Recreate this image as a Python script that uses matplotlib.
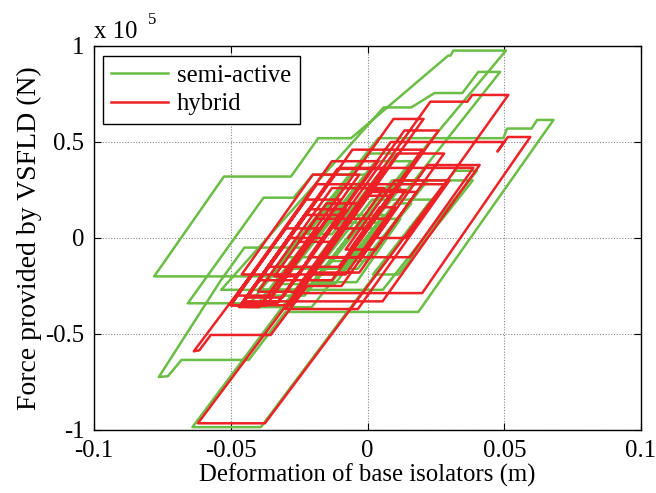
import matplotlib
matplotlib.use("Agg")
import matplotlib.pyplot as plt
from matplotlib.lines import Line2D

plt.rcParams['font.family'] = ['Liberation Serif', 'DejaVu Serif']

# Hysteresis path of the semi-active VSFLD: deformation (m) and force (x 1e5 N)
semi_x = [0.000, 0.010, 0.016, -0.001, -0.014, 0.009, 0.0385, 0.0113, 0.002,
          0.032, 0.040, 0.0056, -0.040, 0.004, 0.0497, 0.051, 0.060, 0.062,
          0.068, 0.0186, -0.030, -0.0434, -0.068, -0.073, -0.0763, -0.0536,
          -0.045, -0.024, -0.040, -0.0657, -0.038, -0.027, -0.020, 0.000,
          -0.0294, -0.078, -0.0525, -0.028, -0.018, -0.006, 0.0295, 0.0303,
          0.0314, 0.0506, -0.0225, -0.0535, 0.0059, 0.016, 0.0245, 0.0347,
          0.0405, 0.0485, -0.010, -0.020, 0.0017, 0.0234, -0.039, -0.064,
          -0.0122, -0.006, 0.006, -0.006, -0.018, -0.010, 0.004, -0.012,
          -0.032, -0.014, 0.012, -0.004, -0.020, -0.004, 0.000,
          0.0133, 0.022, -0.0036, -0.028, 0.003, 0.016, -0.023, -0.036,
          -0.015, 0.004, -0.0204, -0.044, 0.000, 0.010, -0.013, -0.022,
          -0.009, 0.012, -0.008, -0.030, -0.0167, -0.004, -0.0146]
semi_y = [0.000, 0.180, 0.180, -0.120, -0.120, 0.300, 0.300, -0.190, -0.190,
          0.350, 0.350, -0.270, -0.270, 0.520, 0.520, 0.570, 0.570, 0.615,
          0.615, -0.385, -0.385, -0.635, -0.635, -0.720, -0.724, -0.220,
          -0.050, -0.050, -0.340, -0.340, 0.210, 0.210, 0.330, 0.330,
          -0.200, -0.200, 0.320, 0.320, 0.520, 0.520, 0.950, 0.950,
          0.976, 0.976, -0.270, -0.270, 0.680, 0.680, 0.755, 0.755,
          0.865, 0.865, -0.190, -0.190, 0.200, 0.200, -0.985, -0.985,
          0.000, 0.120, 0.120, -0.100, -0.100, 0.050, 0.050, -0.240,
          -0.240, 0.100, 0.100, -0.230, -0.230, 0.060, 0.060,
          0.300, 0.300, -0.160, -0.160, 0.400, 0.400, -0.300, -0.300,
          0.080, 0.080, -0.360, -0.360, 0.440, 0.440, 0.020, 0.020,
          0.260, 0.260, -0.100, -0.100, 0.140, 0.140, -0.050]

# Hysteresis path of the hybrid system
hyb_x = [-0.006, 0.0045, 0.010, -0.003, -0.016, 0.0015, 0.014, -0.008, -0.046,
         -0.020, -0.003, -0.037, -0.050, -0.0225, -0.010, -0.035, -0.048,
         -0.013, 0.004, -0.0325, -0.045, -0.010, 0.0387, 0.0155, -0.0215,
         0.0085, 0.050, 0.0475, 0.0513, 0.0595, 0.0200, -0.027, 0.023, 0.0365,
         0.0383, 0.0515, 0.01425, 0.003, 0.022, 0.041, 0.0055, -0.038, 0.0095,
         0.0205, -0.028, -0.050, -0.0185, 0.028, -0.0375, -0.062, -0.006,
         0.008, -0.0095, -0.022, -0.0354, -0.0573, -0.0615, -0.0635, -0.0298,
         -0.018, -0.0396, -0.047, -0.0215, -0.008, -0.031, -0.044, -0.0285,
         -0.016, -0.026, -0.034, -0.019, -0.006, -0.012,
         0.000, 0.018, -0.003, -0.020, 0.011, 0.028, 0.003, -0.008,
         0.010, 0.030, -0.0035, -0.030, -0.0005, 0.008, -0.0105, -0.036,
         -0.0055, 0.020, -0.0005, -0.012, 0.0135, 0.026, -0.013, -0.040,
         -0.023, -0.010, -0.033, -0.046, -0.011, 0.006, -0.013, -0.025,
         -0.015, -0.002, -0.025, -0.040, -0.013, 0.006, -0.007]
hyb_y = [-0.050, 0.160, 0.160, -0.100, -0.100, 0.250, 0.250, -0.190, -0.190,
         0.330, 0.330, -0.350, -0.350, 0.200, 0.200, -0.300, -0.300,
         0.400, 0.400, -0.330, -0.330, 0.365, 0.365, -0.100, -0.100,
         0.500, 0.500, 0.450, 0.526, 0.526, -0.287, -0.287, 0.710, 0.710,
         0.745, 0.745, 0.000, 0.000, 0.380, 0.380, -0.330, -0.330, 0.620,
         0.620, -0.350, -0.350, 0.280, 0.280, -0.965, -0.965, 0.100,
         0.100, -0.250, -0.250, -0.505, -0.505, -0.585, -0.590, 0.050,
         0.050, -0.360, -0.360, 0.150, 0.150, -0.310, -0.310, 0.000,
         0.000, -0.200, -0.200, 0.100, 0.100, 0.000,
         0.240, 0.240, -0.180, -0.180, 0.440, 0.440, -0.060, -0.060,
         0.300, 0.300, -0.370, -0.370, 0.220, 0.220, -0.150, -0.150,
         0.460, 0.460, 0.050, 0.050, 0.560, 0.560, -0.220, -0.220,
         0.120, 0.120, -0.340, -0.340, 0.360, 0.360, -0.020, -0.020,
         0.180, 0.180, -0.280, -0.280, 0.260, 0.260, 0.000]

x_ticks = [-0.1, -0.05, 0, 0.05, 0.1]
x_tick_labels = ['-0.1', '-0.05', '0', '0.05', '0.1']
y_ticks = [-1, -0.5, 0, 0.5, 1]
y_tick_labels = ['-1', '-0.5', '0', '0.5', '1']

GREEN = '#6abd45'
RED = '#ee2226'
FS = 17.8

fig = plt.figure(figsize=(6.56, 4.93), dpi=100)
ax = fig.add_axes([94 / 656, 63 / 493, 547 / 656, 384 / 493])

ax.plot(semi_x, semi_y, color=GREEN, lw=1.8, solid_joinstyle='round')
ax.plot(hyb_x, hyb_y, color=RED, lw=1.8, solid_joinstyle='round')

ax.set_xlim(-0.1, 0.1)
ax.set_ylim(-1, 1)
ax.set_xticks(x_ticks)
ax.set_xticklabels(x_tick_labels, fontsize=FS)
ax.set_yticks(y_ticks)
ax.set_yticklabels(y_tick_labels, fontsize=FS)
ax.tick_params(direction='in', length=5, width=0.8, top=True, right=True)
ax.tick_params(axis='x', pad=7)
ax.tick_params(axis='y', pad=7)
ax.grid(True, linestyle=(0, (1, 1.5)), color='#888888', lw=0.8)
for s in ax.spines.values():
    s.set_linewidth(1.0)

ax.set_xlabel('Deformation of base isolators (m)', fontsize=FS, labelpad=1)
ax.set_ylabel('Force provided by VSFLD (N)', fontsize=20, labelpad=2)

ax.text(0.0, 1.021, 'x 10', transform=ax.transAxes, fontsize=FS,
        ha='left', va='baseline')
ax.text(0.098, 1.058, '5', transform=ax.transAxes, fontsize=12,
        ha='left', va='baseline')

handles = [Line2D([], [], color=GREEN, lw=1.8),
           Line2D([], [], color=RED, lw=1.8)]
leg = ax.legend(handles, ['semi-active', 'hybrid'], loc='upper left',
                bbox_to_anchor=(0.016, 0.974), fontsize=FS, frameon=True,
                fancybox=False, edgecolor='black', framealpha=1,
                handlelength=2.3, handletextpad=0.35, borderpad=0.35,
                labelspacing=0.25, borderaxespad=0)
leg.get_frame().set_linewidth(1.0)

fig.savefig('out.png', dpi=100)
